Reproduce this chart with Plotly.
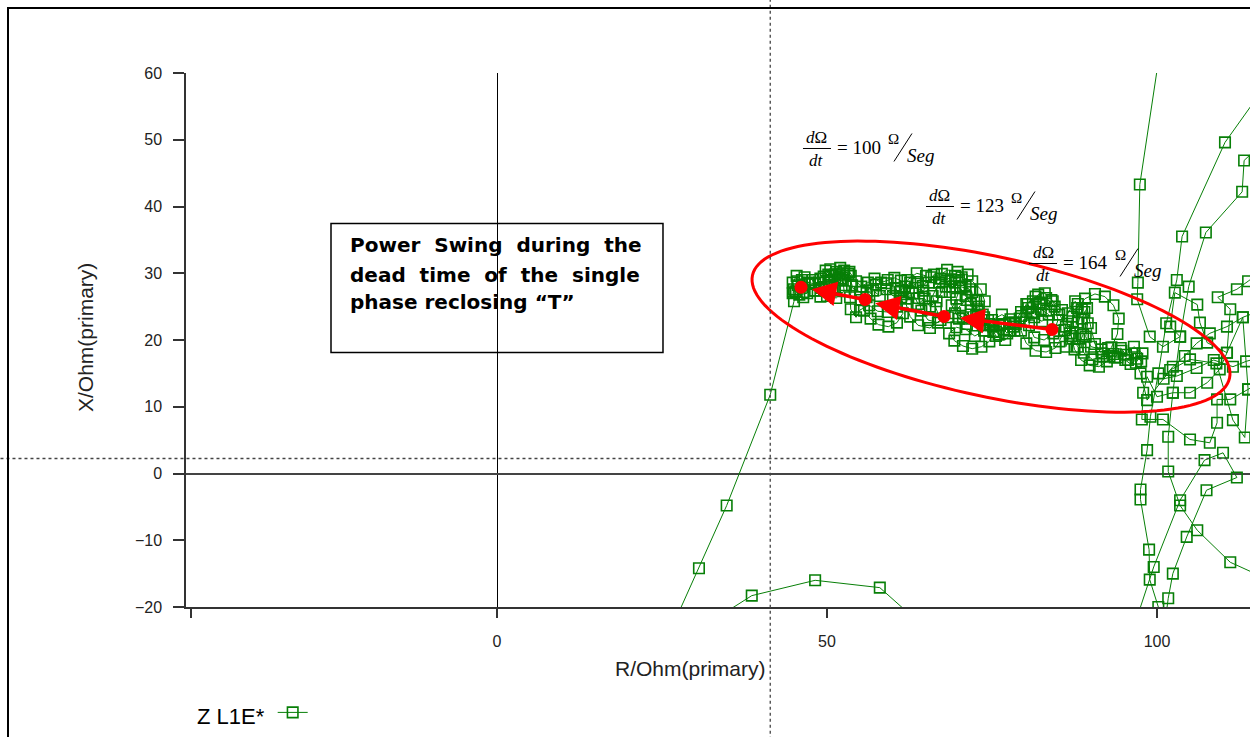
import numpy as np
import plotly.graph_objects as go

GREEN = "#077f07"
RED = "#ff0000"

# ---------------- data (R, X in Ohm primary) ----------------
# lower arc
arc_r = [33.5, 38.6, 48.2, 58.0, 63.0]
arc_x = [-21.5, -18.3, -16.0, -17.1, -21.5]

# steep line from the top (enters the swing area)
top_r = [100.4, 97.4, 97.1, 97.0, 98.9, 100.9, 103.5, 102.0, 102.7, 106.1, 106.5, 107.6,
         110.6, 111.1, 109.2, 112.1, 113.8, 116.0]
top_x = [63.0, 43.3, 28.6, 26.1, 20.5, 19.0, 20.5, 22.0, 27.1, 25.3, 22.6, 19.6,
         18.1, 24.6, 26.4, 27.6, 28.8, 30.5]

# long lines from upper right crossing to the bottom
l2_r = [116.0, 110.3, 103.8, 103.0, 101.4, 100.2, 99.0, 98.5, 97.5, 97.5, 98.8, 98.9, 100.2, 100.8]
l2_x = [57.5, 49.6, 35.5, 29.0, 22.5, 15.0, 8.5, 3.5, -2.4, -3.9, -11.4, -15.9, -20.0, -22.5]

l3_r = [116.0, 113.2, 112.9, 107.4, 104.8, 103.5, 102.4, 101.7, 101.7, 103.5, 106.1, 111.1, 116.0]
l3_x = [49.5, 46.9, 42.2, 36.1, 28.0, 20.5, 12.1, 5.5, 0.3, -4.8, -8.5, -13.3, -15.5]

l4_r = [96.5, 99.5, 103.5, 107.2, 110.0, 112.1, 107.5, 104.5, 102.4, 101.7, 101.2]
l4_x = [-23.0, -14.0, -4.0, 2.0, 3.1, -0.6, -2.5, -9.5, -15.0, -18.7, -22.5]

# extra loops in the right-hand area
right_r = [116.0, 113.0, 110.6, 108.0, 106.0, 104.2, 102.4, 101.0, 103.0, 106.0, 108.6, 111.5,
           113.5, 116.0]
right_x = [24.5, 23.4, 22.0, 21.0, 19.5, 17.6, 16.0, 14.2, 14.6, 15.8, 17.0, 16.0,
           16.8, 17.5]

# swing trajectory: right part (enters from the right edge)
swing_a_r = [116.0, 113.8, 111.1, 109.1, 109.1, 108.0, 105.0, 100.9, 97.7, 97.9, 98.5,
             100.0, 102.4, 105.0, 107.6, 109.5, 110.6, 113.0, 113.8, 113.3, 111.5, 109.0, 105.0,
             102.0, 98.5,
             97.5, 96.8, 97.8, 96.5, 95.3, 94.5, 93.4, 92.4, 91.2, 89.8]
swing_a_x = [14.0, 12.6, 11.1, 11.1, 7.6, 4.6, 5.1, 8.1, 8.1, 12.1, 14.5,
             11.5, 12.1, 12.1, 13.6, 15.6, 18.1, 23.4, 12.6, 5.4, 8.0, 16.5, 17.1,
             15.5, 11.0,
             15.0, 16.6, 18.0, 19.0, 17.8, 18.8, 17.9, 16.8, 16.0, 16.2]

# swing trajectory: middle loops
swing_b_r = [88.5, 87.5, 87.0, 87.2, 87.9, 89.1, 90.6, 92.1, 93.4, 94.2, 94.0, 93.1, 91.8, 90.2,
             88.9, 88.2, 88.1, 88.6, 87.6, 86.5, 86.0, 85.2,
             84.6, 83.2, 81.6, 80.2, 79.4, 79.4, 80.2, 81.6, 83.2, 84.5, 85.0, 84.3, 82.9, 81.4,
             80.6, 81.0, 82.2, 80.5, 79.2, 78.2,
             77.3, 76.2, 75.2, 74.6, 73.4, 72.0, 70.6, 69.3, 68.5, 69.6, 71.0, 72.4, 73.8, 75.0,
             76.5, 77.8, 78.4, 77.0, 75.6, 74.6]
swing_b_x = [17.0, 18.6, 20.6, 22.8, 24.8, 26.2, 26.9, 26.5, 25.2, 23.2, 20.9, 18.9, 17.5, 17.1,
             18.1, 20.2, 22.6, 24.6, 25.8, 24.0, 21.5, 19.8,
             18.8, 18.2, 18.4, 19.5, 21.4, 23.6, 25.4, 26.5, 26.3, 25.0, 23.0, 21.0, 20.0, 20.4,
             22.2, 24.2, 25.4, 24.8, 23.2, 22.0,
             21.0, 22.2, 21.2, 19.8, 19.0, 18.7, 19.1, 19.9, 21.0, 21.9, 21.6, 20.6, 21.4, 23.0,
             23.8, 23.1, 21.4, 20.0, 20.6, 22.4]

# swing trajectory: left part, then the fast exit towards the bottom
swing_c_r = [73.6, 73.9, 73.3, 72.0, 70.4, 68.8, 68.6, 68.9, 70.0, 71.2, 72.6, 72.6, 71.6, 70.2,
             69.6, 68.3, 66.8, 65.3, 64.3, 63.9, 64.5, 65.8, 67.4, 68.2, 69.8, 71.3, 69.4, 67.0,
             66.0, 66.5, 67.2, 65.6, 63.8, 62.6, 62.0, 62.4, 63.6, 65.0, 63.6, 62.2, 61.2,
             61.5, 60.6, 59.3, 57.8, 56.6, 55.6, 55.2, 56.0, 57.4, 59.0, 60.4, 61.2, 60.6, 59.2,
             57.7, 56.4, 55.0, 54.4, 53.6,
             53.5, 53.8, 53.2, 52.0, 50.5, 49.5, 49.2, 50.0, 51.4, 52.6, 52.4, 51.2, 50.3, 50.8,
             49.0, 48.2, 47.8, 46.6, 45.5, 45.0, 45.8, 47.0, 47.4, 46.2, 45.3,
             45.0, 41.4, 34.8, 30.6, 27.0]
swing_c_x = [23.8, 25.8, 27.6, 28.8, 29.4, 29.1, 27.2, 25.2, 23.2, 22.4, 23.6, 25.9, 27.6, 28.0,
             26.2, 23.4, 22.6, 23.0, 24.4, 26.3, 28.1, 29.4, 29.9, 30.5, 30.2, 29.8, 29.6, 28.6,
             26.6, 24.8, 23.0, 21.8, 22.2, 23.5, 25.3, 27.2, 28.7, 29.6, 30.0, 29.0, 27.4,
             24.0, 22.6, 22.0, 22.3, 23.2, 24.4, 26.0, 27.4, 28.3, 28.5, 27.8, 26.4, 25.0, 24.2,
             24.3, 25.2, 24.5, 23.4, 24.6,
             26.4, 28.2, 29.9, 30.8, 30.6, 29.5, 27.8, 26.6, 26.3, 27.3, 29.0, 29.8, 28.6, 27.4,
             26.5, 27.4, 29.0, 29.4, 28.8, 27.6, 26.8, 27.0, 28.4, 28.2, 27.3,
             25.8, 11.8, -4.8, -14.2, -22.0]

# second pass of the swing along the upper (dense) part of the band
swing_d_r = [97.0, 96.0, 95.2, 94.0, 92.8, 91.6, 90.0, 89.2, 89.5, 89.0, 88.0, 87.2, 86.8, 86.2,
             85.6, 84.0, 83.0, 82.0, 81.2, 82.4, 83.6, 82.6, 81.4, 80.2,
             78.6, 77.6, 76.8, 76.0, 75.2, 74.4, 73.6,
             72.8, 71.8, 71.0, 70.2, 69.4, 68.0, 67.2, 66.2, 65.4, 64.6, 63.4, 62.6, 61.8, 61.2,
             60.2, 59.2, 58.2, 57.2, 56.2, 55.2, 54.4, 53.4, 52.4, 51.6, 50.6, 49.8, 49.0, 48.2,
             47.2, 46.2, 45.4, 44.8, 45.2, 46.4]
swing_d_x = [17.2, 16.4, 17.0, 17.4, 17.6, 18.6, 19.0, 20.5, 22.5, 24.2, 25.4, 23.5, 21.0, 19.0,
             24.5, 26.0, 27.0, 26.8, 25.8, 24.6, 23.8, 22.8, 23.4, 24.2,
             22.4, 22.6, 21.6, 20.8, 22.0, 23.0, 22.2,
             24.6, 25.4, 26.6, 27.8, 28.6, 28.0, 29.2, 29.8, 28.6, 27.4, 27.8, 28.6, 28.0, 28.9,
             29.3, 29.0, 28.6, 29.2, 28.6, 28.0, 28.8, 30.2, 30.0, 29.0, 29.6, 30.4, 29.2, 28.4,
             28.6, 29.0, 29.6, 28.6, 27.2, 26.4]

# third pass through the densest parts (left to right)
swing_e_r = [44.8, 45.6, 46.4, 47.2, 48.0, 48.8, 49.6, 50.4, 51.2, 52.0, 52.8, 53.6, 52.6, 51.4,
             50.2, 55.0, 56.0, 57.0, 58.0, 59.0, 60.0, 61.0, 62.0, 63.0, 63.8, 64.8, 65.6, 66.6,
             67.4, 68.0, 69.0, 70.0, 71.0, 72.0, 71.2, 70.2, 69.4, 70.6, 71.8, 73.0, 73.8, 74.8,
             75.6, 76.6, 77.6, 78.4, 79.4, 80.4, 81.2, 82.2, 83.2, 84.2, 85.2, 86.2, 87.2, 88.0,
             88.8, 88.6, 89.4, 90.0, 90.6, 91.6, 92.6, 93.6, 94.6, 95.6, 96.6, 97.6]
swing_e_x = [27.0, 28.2, 27.2, 28.4, 27.4, 28.6, 27.6, 28.8, 27.8, 29.2, 28.2, 29.6, 30.4, 30.2,
             29.8, 27.2, 26.4, 27.4, 26.6, 27.6, 26.6, 27.2, 26.2, 27.0, 25.4, 26.2, 25.0, 25.8,
             27.2, 28.8, 28.0, 29.0, 28.0, 27.2, 26.0, 25.2, 24.0, 23.4, 24.4, 25.0, 23.4, 22.2,
             21.2, 22.4, 21.4, 22.6, 24.2, 25.4, 24.0, 25.6, 24.4, 25.8, 23.8, 22.0, 20.2, 19.0,
             20.8, 23.2, 24.8, 21.8, 19.4, 18.0, 18.8, 17.4, 18.4, 17.0, 18.0, 16.8]

# red swing-direction points (arrow tails) and arrow tips
dot_r = [46.06, 55.76, 67.73, 84.09]
dot_x = [27.9, 26.07, 23.52, 21.57]
tip_r = [47.7, 57.3, 70.15]
tip_x = [27.6, 25.5, 23.3]

# dΩ/dt labels
eq_r = [48.48, 67.12, 82.73]
eq_x = [48.69, 40.0, 31.46]
eq_vals = ["100", "123", "164"]

box_lines = ["Power  Swing  during  the", "dead  time  of  the  single", "phase reclosing “T”"]
box_line_x = [34.16, 29.81, 25.62]

x_ticks = [-46.4, 0, 50, 100]
x_ticklabels = ["", "0", "50", "100"]
y_ticks = [-20, -10, 0, 10, 20, 30, 40, 50, 60]

# ---------------- layout geometry ----------------
W, H = 1250, 737
ML, MR, MT, MB = 186, 0, 73, 130
XR = [-47.12, 114.09]
YR = [-20, 60]
pw, ph = W - ML - MR, H - MT - MB
ppx = pw / (XR[1] - XR[0])
ppy = ph / (YR[1] - YR[0])

segments = [(arc_r, arc_x), (top_r, top_x), (l2_r, l2_x), (l3_r, l3_x), (l4_r, l4_x),
            (right_r, right_x),
            (swing_a_r + swing_b_r + swing_c_r, swing_a_x + swing_b_x + swing_c_x),
            (swing_d_r, swing_d_x), (swing_e_r, swing_e_x)]
xs, ys = [], []
for r, x in segments:
    xs += list(r) + [None]
    ys += list(x) + [None]

fig = go.Figure()
fig.add_trace(go.Scatter(
    x=xs, y=ys, mode="lines+markers", name=" ", connectgaps=False,
    line=dict(color=GREEN, width=1),
    marker=dict(symbol="square-open", size=10.5, color=GREEN, line=dict(width=1.6, color=GREEN)),
))
fig.add_trace(go.Scatter(
    x=dot_r, y=dot_x, mode="markers", showlegend=False,
    marker=dict(symbol="circle", size=13, color=RED),
))

shapes = []
annotations = []

# ellipse (rotated) around the swing
ell_c = (74.85, 22.0)
ell_a, ell_b, ell_tilt = 244, 70, 12.15  # px, px, deg
t = np.linspace(0, 2 * np.pi, 145)
th = np.radians(ell_tilt)
dxp = ell_a * np.cos(t) * np.cos(th) - ell_b * np.sin(t) * np.sin(th)
dyp = ell_a * np.cos(t) * np.sin(th) + ell_b * np.sin(t) * np.cos(th)
er = ell_c[0] + dxp / ppx
ex = ell_c[1] - dyp / ppy
path = "M " + " L ".join(f"{a:.3f},{b:.3f}" for a, b in zip(er, ex)) + " Z"
shapes.append(dict(type="path", path=path, xref="x", yref="y",
                   line=dict(color=RED, width=3)))

# arrows between the red points
for i in range(3):
    annotations.append(dict(
        x=tip_r[i], y=tip_x[i], ax=dot_r[i + 1], ay=dot_x[i + 1],
        xref="x", yref="y", axref="x", ayref="y", text="", showarrow=True,
        arrowhead=2, arrowsize=1.4, arrowwidth=3.5, arrowcolor=RED, standoff=0,
    ))

# crosshair dotted lines
cross_r, cross_x = 41.4, 2.25
shapes.append(dict(type="line", xref="x", yref="paper", x0=cross_r, x1=cross_r,
                   y0=-0.26, y1=1.16, line=dict(color="#444", width=1.3, dash="dot")))
shapes.append(dict(type="line", xref="paper", yref="y", x0=-0.18, x1=1.02,
                   y0=cross_x, y1=cross_x, line=dict(color="#444", width=1.3, dash="dot")))

# outer frame
shapes.append(dict(type="rect", xref="paper", yref="paper",
                   x0=(8 - ML) / pw, x1=1.05,
                   y0=-0.3, y1=1 + (MT - 8) / ph,
                   line=dict(color="black", width=2)))

# text box
shapes.append(dict(type="rect", xref="x", yref="y", x0=-25.15, x1=25.15, y0=18.13, y1=37.45,
                   line=dict(color="black", width=1.5), layer="above"))
for txt, yv in zip(box_lines, box_line_x):
    annotations.append(dict(x=-22.6, y=yv, xref="x", yref="y",
                            text=txt.replace(" ", "\u00a0"), showarrow=False,
                            xanchor="left", yanchor="middle", align="left",
                            font=dict(family="DejaVu Sans", size=20, color="black",
                                      weight="bold")))

# dΩ/dt equations
serif = "Liberation Serif"
for r, x, v in zip(eq_r, eq_x, eq_vals):
    annotations.append(dict(x=r, y=x, xref="x", yref="y", text="<i>d</i>Ω", showarrow=False,
                            xanchor="center", yanchor="middle", yshift=11,
                            font=dict(family=serif, size=17, color="black")))
    annotations.append(dict(x=r, y=x, xref="x", yref="y", text="<i>dt</i>", showarrow=False,
                            xanchor="center", yanchor="middle", yshift=-12,
                            font=dict(family=serif, size=17, color="black")))
    # fraction bar
    shapes.append(dict(type="line", xref="x", yref="y", x0=r - 14 / ppx, x1=r + 14 / ppx,
                       y0=x, y1=x, line=dict(color="black", width=1)))
    annotations.append(dict(x=r, y=x, xref="x", yref="y", text=f"= {v}", showarrow=False,
                            xanchor="left", yanchor="middle", xshift=18, yshift=1,
                            font=dict(family=serif, size=19, color="black")))
    annotations.append(dict(x=r, y=x, xref="x", yref="y", text="Ω", showarrow=False,
                            xanchor="center", yanchor="middle", xshift=77, yshift=9,
                            font=dict(family=serif, size=15, color="black")))
    # slanted solidus of the unit
    shapes.append(dict(type="line", xref="x", yref="y",
                       x0=r + 77 / ppx, x1=r + 95 / ppx,
                       y0=x - 13 / ppy, y1=x + 15 / ppy,
                       line=dict(color="black", width=1)))
    annotations.append(dict(x=r, y=x, xref="x", yref="y", text="<i>Seg</i>", showarrow=False,
                            xanchor="center", yanchor="middle", xshift=104, yshift=-7,
                            font=dict(family=serif, size=19, color="black")))

# axis titles
annotations.append(dict(x=(690 - ML) / pw, y=(H - MB - 668) / ph, xref="paper", yref="paper",
                        text="R/Ohm(primary)", showarrow=False, xanchor="center", yanchor="middle",
                        font=dict(family="Liberation Sans", size=21, color="#222")))
annotations.append(dict(x=(85 - ML) / pw, y=(H - MB - 338) / ph, xref="paper", yref="paper",
                        text="X/Ohm(primary)", showarrow=False, xanchor="center", yanchor="middle",
                        textangle=-90, font=dict(family="Liberation Sans", size=21, color="#222")))

fig.update_layout(
    width=W, height=H, margin=dict(l=ML, r=MR, t=MT, b=MB),
    paper_bgcolor="white", plot_bgcolor="white",
    shapes=shapes, annotations=annotations,
    showlegend=True,
    legend=dict(x=(195 - ML) / pw, y=(H - MB - 715) / ph, xanchor="left", yanchor="middle",
                bgcolor="rgba(0,0,0,0)",
                title=dict(text="Z L1E*", side="left",
                           font=dict(family="Liberation Sans", size=22, color="black")),
                font=dict(family="Liberation Sans", size=16)),
    xaxis=dict(range=XR, showgrid=False, zeroline=True, zerolinecolor="black", zerolinewidth=1,
               showline=True, linecolor="#333", linewidth=1.5,
               ticks="outside", ticklen=9, tickwidth=1.5, tickcolor="#333",
               tickvals=x_ticks, ticktext=x_ticklabels, ticklabelstandoff=10,
               tickfont=dict(family="Liberation Sans", size=16, color="#222")),
    yaxis=dict(range=YR, showgrid=False, zeroline=True, zerolinecolor="#444", zerolinewidth=2,
               showline=True, linecolor="#333", linewidth=1.5,
               ticks="outside", ticklen=11, tickwidth=1.5, tickcolor="#333",
               tickvals=y_ticks, ticklabelstandoff=8,
               tickfont=dict(family="Liberation Sans", size=16, color="#222")),
)

fig.write_html("out.html", config={"displayModeBar": False},
               post_script="document.body.style.margin='0';")
